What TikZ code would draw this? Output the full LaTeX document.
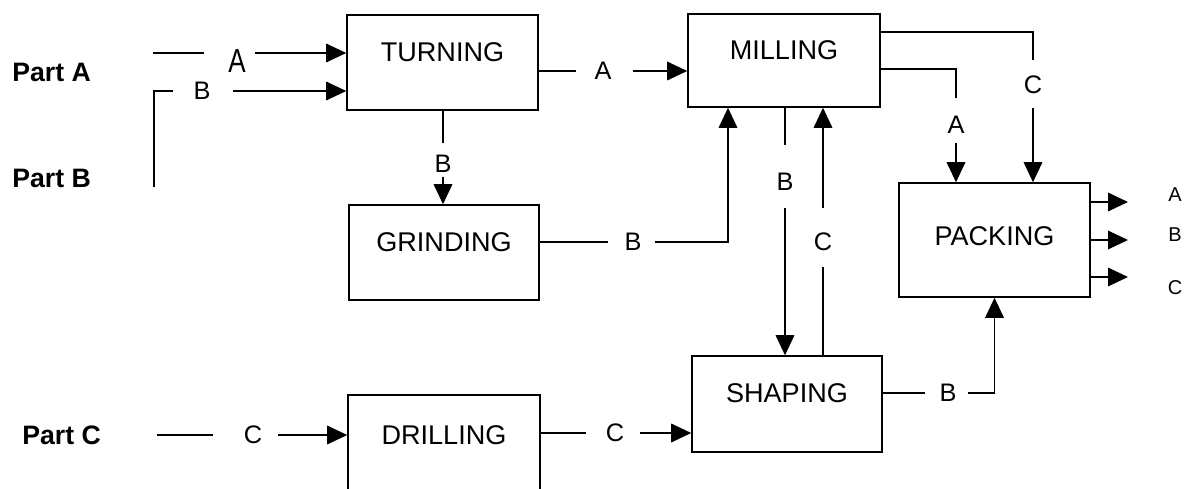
\documentclass[tikz,border=0pt]{standalone}
\usepackage{fontspec}
\setmainfont{Liberation Sans}
\usetikzlibrary{arrows.meta}
\begin{document}
\begin{tikzpicture}[x=0.75pt,y=-0.75pt,
  box/.style={draw, line width=1.2pt, minimum width=143.25pt, inner xsep=0pt, inner ysep=0pt,
    text height=34.875pt, text depth=36.375pt, font=\fontsize{20.3}{24}\selectfont},
  lbl/.style={inner sep=0pt, font=\fontsize{19}{23}\selectfont},
  part/.style={inner sep=0pt, anchor=west, font=\fontsize{20}{24}\selectfont\bfseries},
  outl/.style={inner sep=0pt, font=\fontsize{15}{18}\selectfont},
  conn/.style={line width=0.9pt},
  arr/.style={conn, -{Triangle[length=15pt,width=14pt]}},
]
\useasboundingbox (0,0) rectangle (1189,489);
\clip (0,0) rectangle (1189,489);

% boxes
\node[box] (turning) at (442.5,62.5) {TURNING};
\node[box, minimum width=144pt, text height=34.125pt, text depth=35.625pt] (milling) at (784,60.5) {MILLING};
\node[box, minimum width=142.5pt] (grinding) at (444,252.5) {GRINDING};
\node[box, text height=46.875pt, text depth=38.625pt] (packing) at (994.5,240) {PACKING};
\node[box, minimum width=142.5pt, text depth=37.125pt] (shaping) at (787,404) {SHAPING};
\node[box, minimum width=144pt, text height=37.125pt, text depth=75pt] (drilling) at (444,469.75) {DRILLING};

% part labels
\node[part] (partA) at (12,72) {Part A};
\node[part] (partB) at (12,178) {Part B};
\node[part] (partC) at (22,435) {Part C};

% Part A -> TURNING
\coordinate (pa) at (153,53);
\node[lbl, font=\fontsize{25}{29}\selectfont\addfontfeatures{FakeStretch=0.78}] (la0) at (237,61) {A};
\draw[conn, shorten >=18pt] (pa) -- (la0.west |- pa);
\draw[arr, shorten <=7pt] (la0.east |- pa) -- (turning.west |- pa);

% Part B -> TURNING
\coordinate (pb) at (154,187);
\node[lbl] (lb0) at (202,91) {B};
\draw[conn, shorten >=15pt] (pb) |- (lb0.west);
\draw[arr, shorten <=17pt] (lb0.east) -- (turning.west |- lb0);

% TURNING -> MILLING
\node[lbl] (la1) at (603,71) {A};
\draw[conn, shorten >=14pt] (turning.east |- la1) -- (la1.west);
\draw[arr, shorten <=16pt] (la1.east) -- (milling.west |- la1);

% TURNING -> GRINDING
\node[lbl] (lb1) at (443,164) {B};
\draw[conn, shorten >=9pt] (turning.south -| lb1) -- (lb1.north);
\draw[arr, shorten <=3pt] (lb1.south) -- (grinding.north -| lb1);

% GRINDING -> MILLING
\node[lbl] (lb2) at (633,242) {B};
\coordinate (gm) at (728,242);
\draw[conn, shorten >=12.5pt] (grinding.east |- lb2) -- (lb2.west);
\draw[arr, shorten <=10pt] (lb2.east) -| (milling.south -| gm);

% MILLING -> SHAPING
\node[lbl] (lb3) at (785,182) {B};
\draw[conn, shorten >=21pt] (milling.south -| lb3) -- (lb3.north);
\draw[arr, shorten <=12.5pt] (lb3.south) -- (shaping.north -| lb3);

% SHAPING -> MILLING
\node[lbl] (lc1) at (823,242) {C};
\draw[conn, shorten >=12pt] (shaping.north -| lc1) -- (lc1.south);
\draw[arr, shorten <=18.75pt] (lc1.north) -- (milling.south -| lc1);

% MILLING -> PACKING (A)
\node[lbl] (la2) at (956,125) {A};
\draw[conn, shorten >=13.5pt] ([yshift=-6.4pt]milling.east) -| (la2.north);
\draw[arr, shorten <=6.75pt] (la2.south) -- (packing.north -| la2);

% MILLING -> PACKING (C)
\node[lbl] (lc2) at (1033,85) {C};
\draw[conn, shorten >=12pt] ([yshift=21.4pt]milling.east) -| (lc2.north);
\draw[arr, shorten <=10.5pt] (lc2.south) -- (packing.north -| lc2);

% Part C -> DRILLING
\coordinate (pc) at (157,435);
\node[lbl] (lc3) at (253,435) {C};
\draw[conn, shorten >=23pt] (pc) -- (lc3.west);
\draw[arr, shorten <=12pt] (lc3.east) -- (drilling.west |- lc3);

% DRILLING -> SHAPING
\node[lbl] (lc4) at (615,433) {C};
\draw[conn, shorten >=14.5pt] (drilling.east |- lc4) -- (lc4.west);
\draw[arr, shorten <=12pt] (lc4.east) -- (shaping.west |- lc4);

% SHAPING -> PACKING
\node[lbl] (lb4) at (948,393) {B};
\draw[conn, shorten >=10.5pt] (shaping.east |- lb4) -- (lb4.west);
\draw[arr, shorten <=8.5pt] (lb4.east) -| (packing.south);

% outputs
\coordinate (tA) at (1128,202);
\coordinate (tB) at (1128,240);
\coordinate (tC) at (1128,277);
\draw[arr] (packing.east |- tA) -- (tA);
\draw[arr] (packing.east |- tB) -- (tB);
\draw[arr] (packing.east |- tC) -- (tC);
\node[outl] (oA) at (1175,195) {A};
\node[outl] (oB) at (1175,235) {B};
\node[outl] (oC) at (1175,288) {C};
\end{tikzpicture}
\end{document}
